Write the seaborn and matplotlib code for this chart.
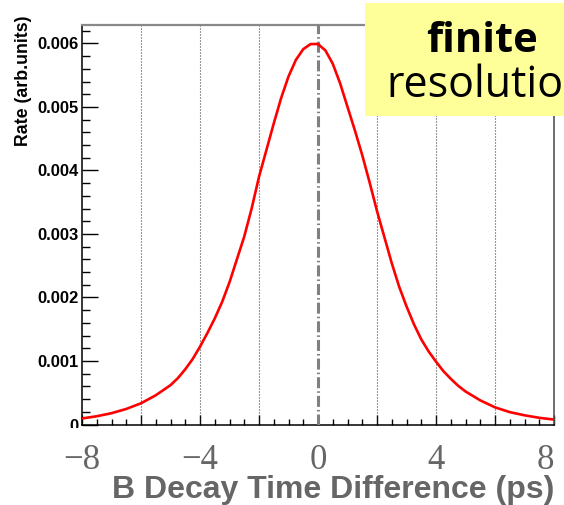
import matplotlib
matplotlib.use("Agg")
import matplotlib.pyplot as plt
import pandas as pd
import seaborn as sns
from matplotlib.patches import Rectangle
from matplotlib.ticker import MultipleLocator
from matplotlib.transforms import Bbox, TransformedBbox

# Decay-time difference (ps) and rate with finite resolution
dt = [-8.0, -7.5, -7.0, -6.5, -6.0, -5.5, -5.0, -4.75, -4.5, -4.25, -4.0,
      -3.75, -3.5, -3.25, -3.0, -2.75, -2.5, -2.25, -2.0, -1.75, -1.5, -1.25,
      -1.0, -0.75, -0.5, -0.25, 0.0, 0.25, 0.5, 0.75, 1.0, 1.25, 1.5, 1.75,
      2.0, 2.25, 2.5, 2.75, 3.0, 3.25, 3.5, 3.75, 4.0, 4.25, 4.5, 4.75, 5.0,
      5.5, 6.0, 6.5, 7.0, 7.5, 8.0]
rate = [0.000095, 0.00013, 0.000178, 0.000245, 0.000334, 0.00046, 0.00062,
        0.00073, 0.00087, 0.00103, 0.001225, 0.00144, 0.00167, 0.00193,
        0.00224, 0.0026, 0.00296, 0.0034, 0.0039, 0.00432, 0.00474, 0.00514,
        0.00548, 0.00574, 0.00591, 0.00599, 0.00599, 0.00589, 0.00568, 0.00537,
        0.005, 0.00463, 0.00424, 0.00381, 0.00336, 0.00295, 0.00254, 0.00217,
        0.00186, 0.00158, 0.00134, 0.00115, 0.00099, 0.00084, 0.00072, 0.00061,
        0.00052, 0.00038, 0.00027, 0.000195, 0.000145, 0.000105, 0.000078]

x_major = [-8, -6, -4, -2, 0, 2, 4, 6, 8]
x_labelled = {-8: "\u22128", -4: "\u22124", 0: "0", 4: "4", 8: "8"}
y_ticks = [0, 0.001, 0.002, 0.003, 0.004, 0.005, 0.006]
y_tick_labels = ["0", "0.001", "0.002", "0.003", "0.004", "0.005", "0.006"]
grid_positions = [-6, -4, -2, 2, 4, 6]

sns.set_theme(style="white")
plt.rcParams["font.family"] = ["Liberation Sans", "DejaVu Sans"]

fig = plt.figure(figsize=(5.64, 5.05), dpi=100)
ax = fig.add_axes([0.1454, 0.1594, 0.8369, 0.7911])

df = pd.DataFrame({"dt": dt, "rate": rate})
sns.lineplot(data=df, x="dt", y="rate", color="#ff0000", linewidth=1.9,
             ax=ax, zorder=4)

for g in grid_positions:
    ax.axvline(g, color="#333333", lw=0.8, linestyle=(0, (0.9, 1.8)), zorder=1)
ax.axvline(0, color="#808080", lw=2.2, linestyle=(0, (3.6, 1.0, 0.5, 1.0)),
           zorder=3)

ax.set_xlim(-8, 8)
ax.set_ylim(0, 0.00629)

ax.set_xticks(x_major, labels=[x_labelled.get(v, "") for v in x_major])
ax.xaxis.set_minor_locator(MultipleLocator(0.5))
ax.set_yticks(y_ticks, labels=y_tick_labels)
ax.yaxis.set_minor_locator(MultipleLocator(0.0002))

ax.tick_params(which="both", bottom=True, left=True, top=False, right=False,
               direction="in", color="black", width=1.0)
ax.tick_params(axis="x", which="major", length=7.2, pad=14, labelsize=25,
               labelcolor="#666666", labelfontfamily="Liberation Serif")
ax.tick_params(axis="x", which="minor", length=4.3)
ax.tick_params(axis="y", which="major", length=11.5, pad=2.2, labelsize=12,
               labelcolor="black")
ax.tick_params(axis="y", which="minor", length=5.8)

for lab in ax.get_yticklabels():
    lab.set_fontweight("bold")
ax.get_xticklabels()[-1].set_ha("right")

# the lower strip of the canvas hides the bottom of the "0" label
clip = TransformedBbox(Bbox.from_extents(0, 0.1525, 1, 1), fig.transFigure)
for tick in ax.yaxis.get_major_ticks():
    tick.label1.set_clip_box(clip)
    tick.label1.set_clip_on(True)

for side, col, lw in [("left", "black", 1.1), ("bottom", "black", 1.1),
                      ("top", "#888888", 1.6), ("right", "#555555", 1.2)]:
    ax.spines[side].set_visible(True)
    ax.spines[side].set_color(col)
    ax.spines[side].set_linewidth(lw)

ax.set_ylabel("Rate (arb.units)", fontsize=12.8, fontweight="bold",
              color="black", loc="top")
ax.yaxis.set_label_coords(-0.106, 1.025)
ax.set_xlabel("B Decay Time Difference (ps)", fontsize=23, fontweight="bold",
              color="#666666", loc="right")
ax.xaxis.set_label_coords(1.0, -0.126)

# note box in the upper right corner
fig.add_artist(Rectangle((0.647, 0.7703), 0.5, 0.2237, transform=fig.transFigure,
                         facecolor="#ffff99", edgecolor="none", zorder=5))
fig.text(0.8546, 0.897, "finite", ha="center", va="baseline", fontsize=30,
         fontweight="bold", family="Open Sans", color="black", zorder=6)
fig.text(0.6844, 0.808, "resolution", ha="left", va="baseline", fontsize=31,
         family="Open Sans", color="black", zorder=6)

fig.savefig("out.png", dpi=100)
